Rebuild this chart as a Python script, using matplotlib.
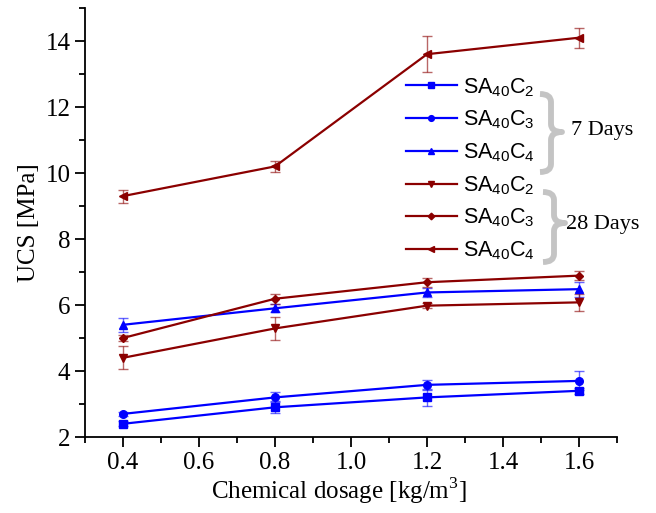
import numpy as np
import matplotlib
matplotlib.use("Agg")
import matplotlib.pyplot as plt
from matplotlib.path import Path
from matplotlib.patches import PathPatch
from matplotlib.lines import Line2D
from matplotlib.ticker import MultipleLocator

plt.rcParams['font.family'] = ['Liberation Serif', 'DejaVu Serif']
plt.rcParams['mathtext.fontset'] = 'custom'
plt.rcParams['mathtext.rm'] = 'Liberation Serif'
plt.rcParams['mathtext.sf'] = 'Liberation Sans'

dosage = [0.4, 0.8, 1.2, 1.6]

# 7 days
d7_c2 = [2.4, 2.9, 3.2, 3.4]
d7_c2_err = [0.08, 0.18, 0.25, 0.1]
d7_c3 = [2.7, 3.2, 3.58, 3.7]
d7_c3_err = [0.05, 0.15, 0.15, 0.29]
d7_c4 = [5.4, 5.9, 6.38, 6.48]
d7_c4_err = [0.22, 0.12, 0.14, 0.23]

# 28 days
d28_c2 = [4.4, 5.29, 5.98, 6.08]
d28_c2_err = [0.35, 0.36, 0.08, 0.25]
d28_c3 = [5.0, 6.19, 6.69, 6.89]
d28_c3_err = [0.1, 0.15, 0.14, 0.14]
d28_c4 = [9.3, 10.2, 13.6, 14.1]
d28_c4_err = [0.2, 0.17, 0.55, 0.3]

blue = '#0000ff'
red = '#8b0000'

series = [
    (d7_c2, d7_c2_err, blue, 's', r'$\mathsf{SA_{40}C_2}$'),
    (d7_c3, d7_c3_err, blue, 'o', r'$\mathsf{SA_{40}C_3}$'),
    (d7_c4, d7_c4_err, blue, '^', r'$\mathsf{SA_{40}C_4}$'),
    (d28_c2, d28_c2_err, red, 'v', r'$\mathsf{SA_{40}C_2}$'),
    (d28_c3, d28_c3_err, red, 'D', r'$\mathsf{SA_{40}C_3}$'),
    (d28_c4, d28_c4_err, red, '<', r'$\mathsf{SA_{40}C_4}$'),
]

W, H = 656, 513
fig = plt.figure(figsize=(W / 100, H / 100), dpi=100)
ax = fig.add_axes([85 / W, 1 - 437 / H, 532 / W, 429 / H])

handles = []
for vals, errs, col, mk, lab in series:
    ms = 4.5 if mk == 'D' else 5.5
    c = ax.errorbar(dosage, vals, yerr=errs, color=col, marker=mk, ms=ms, lw=1.6,
                    ecolor=col, elinewidth=1, capsize=3.6, capthick=1)
    # lighter error bars like the original
    for art in c.lines[1] + c.lines[2]:
        art.set_alpha(0.6)
    handles.append(Line2D([], [], color=col, marker=mk, ms=ms * 0.75, lw=1.6, label=lab))

ax.set_xlim(0.3, 1.7)
ax.set_ylim(2, 15)
ax.xaxis.set_major_locator(MultipleLocator(0.2))
ax.xaxis.set_minor_locator(MultipleLocator(0.1))
ax.yaxis.set_major_locator(MultipleLocator(2))
ax.yaxis.set_minor_locator(MultipleLocator(1))
ax.set_xticks([0.4, 0.6, 0.8, 1.0, 1.2, 1.4, 1.6])
ax.tick_params(which='major', direction='out', length=7, width=1.3, labelsize=18)
ax.tick_params(which='minor', direction='out', length=4, width=1.3)
for s in ['top', 'right']:
    ax.spines[s].set_visible(False)
for s in ['left', 'bottom']:
    ax.spines[s].set_linewidth(1.3)

ax.set_xlabel(r'Chemical dosage [kg/m$^3$]', fontsize=18, labelpad=1, x=0.477)
ax.set_ylabel('UCS [MPa]', fontsize=18, labelpad=4)

ax.legend(handles=handles, loc='upper left', bbox_to_anchor=(406 / W, 1 - 76 / H),
          bbox_transform=fig.transFigure, frameon=False, fontsize=15.5,
          handlelength=2.35, handletextpad=0.3, labelspacing=0.47,
          borderaxespad=0, borderpad=0)


def brace(x0, xm, xt, ytop, ybot, ymid):
    r = 8
    pts = [(x0, ytop), (xm, ytop), (xm, ytop + r),
           (xm, ymid - r), (xm, ymid), (xt, ymid),
           (xm, ymid), (xm, ymid + r),
           (xm, ybot - r), (xm, ybot), (x0, ybot)]
    codes = [Path.MOVETO, Path.CURVE3, Path.CURVE3,
             Path.LINETO, Path.CURVE3, Path.CURVE3,
             Path.CURVE3, Path.CURVE3,
             Path.LINETO, Path.CURVE3, Path.CURVE3]
    pts = [(x / W, 1 - y / H) for x, y in pts]
    fig.patches.append(PathPatch(Path(pts, codes), transform=fig.transFigure,
                                 fill=False, edgecolor='#c4c4c4', lw=4.2,
                                 capstyle='butt', joinstyle='round'))


brace(540, 551, 562, 94, 172, 132)
brace(543, 554, 565, 192, 262, 223)
fig.text(571 / W, 1 - 131 / H, '7 Days', fontsize=16, va='center', ha='left')
fig.text(566 / W, 1 - 224 / H, '28 Days', fontsize=16, va='center', ha='left')

fig.savefig('out.png', dpi=100)
